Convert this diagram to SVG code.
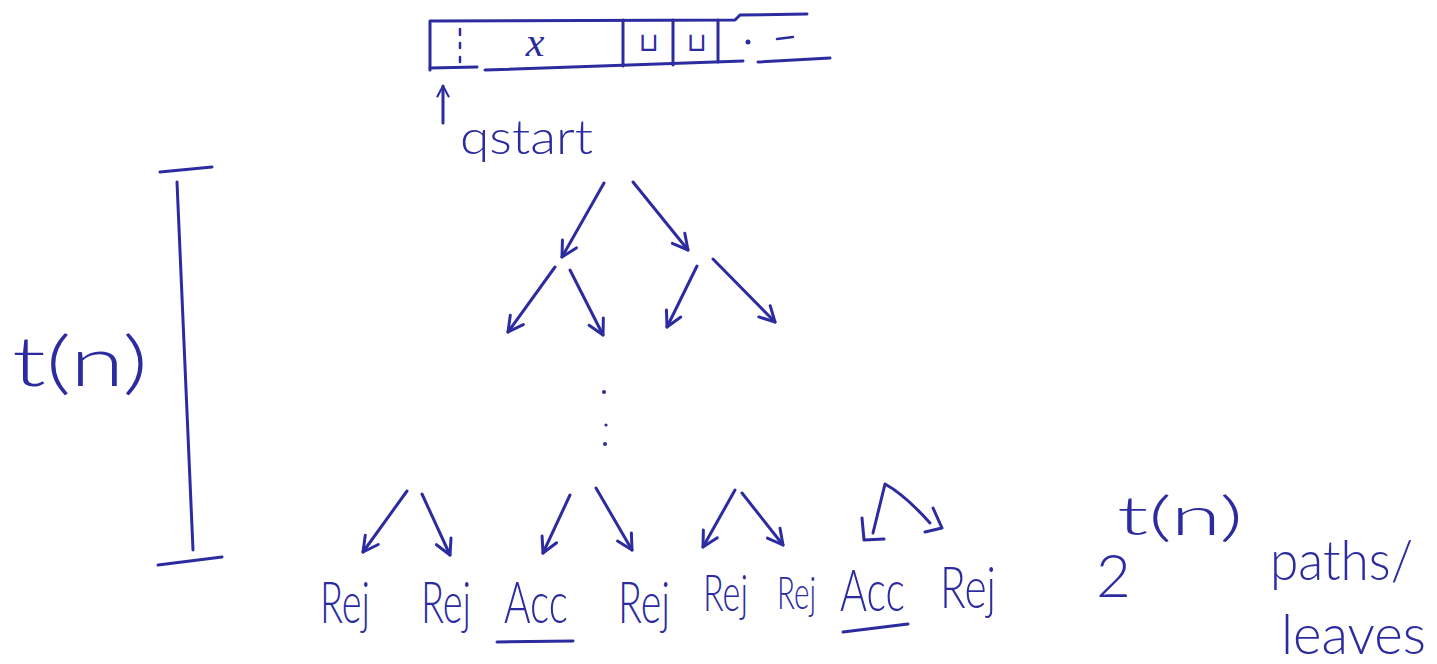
<svg xmlns="http://www.w3.org/2000/svg" width="1437" height="664" viewBox="0 0 1437 664">
<defs>
<style>
.ink{fill:none;stroke:#2c2ca0;stroke-width:3;stroke-linecap:round;stroke-linejoin:round}
.thin{fill:none;stroke:#2c2ca0;stroke-width:2.5;stroke-linecap:round}
.t{fill:#2c2ca0;font-family:Lato,"Liberation Sans",Arial,sans-serif;font-weight:300}
.leaf{font-size:58px}
.arr{fill:none;stroke:#2c2ca0;stroke-width:3;stroke-linecap:round;marker-end:url(#ah)}
</style>
<marker id="ah" viewBox="0 0 20 20" refX="17" refY="10" markerWidth="20" markerHeight="20" markerUnits="userSpaceOnUse" orient="auto">
<path d="M2,2 L17,10 L2,18" fill="none" stroke="#2c2ca0" stroke-width="3" stroke-linecap="round" stroke-linejoin="round"/>
</marker>
<marker id="ahs" viewBox="0 0 20 20" refX="17" refY="10" markerWidth="14" markerHeight="14" markerUnits="userSpaceOnUse" orient="auto">
<path d="M2,2 L17,10 L2,18" fill="none" stroke="#2c2ca0" stroke-width="3" stroke-linecap="round" stroke-linejoin="round"/>
</marker>
</defs>
<rect width="1437" height="664" fill="#ffffff"/>

<g id="tape">
<path class="ink" d="M430,70 L430,21 L735,20 L740,15 L807,14"/>
<path class="ink" d="M430,68 L477,67"/>
<path class="ink" d="M485,70 L743,61"/>
<path class="ink" d="M758,62 L830,58"/>
<path class="ink" d="M623,20 L623,66"/>
<path class="ink" d="M673,20 L673,65"/>
<path class="ink" d="M718,20 L718,62"/>
<path class="thin" d="M460,29 L460,35 M460,43 L460,48 M460,57 L460,62"/>
<text x="535" y="56" font-style="italic" font-size="42" text-anchor="middle" fill="#2c2ca0" style="font-family:'Liberation Serif',serif">x</text>
<text x="649" y="51" font-size="26" text-anchor="middle" fill="#2c2ca0" style="font-family:'DejaVu Sans',sans-serif">⊔</text>
<text x="697" y="51" font-size="26" text-anchor="middle" fill="#2c2ca0" style="font-family:'DejaVu Sans',sans-serif">⊔</text>
<circle cx="748" cy="42" r="2.5" fill="#2c2ca0"/>
<path class="thin" d="M777,39 L793,37"/>
</g>

<g id="qstart">
<path class="ink" d="M443,123 L443,86" marker-end="url(#ahs)"/>
<text class="t" x="460" y="154" font-size="48" textLength="133" lengthAdjust="spacingAndGlyphs">qstart</text>
</g>

<g id="connectors">
<path class="arr" d="M604,183 L562,257"/>
<path class="arr" d="M633,182 L688,250"/>
<path class="arr" d="M555,267 L508,332"/>
<path class="arr" d="M570,270 L603,335"/>
<path class="arr" d="M697,266 L667,327"/>
<path class="arr" d="M713,259 L775,322"/>
<path class="arr" d="M407,491 L363,552"/>
<path class="arr" d="M422,494 L450,555"/>
<path class="arr" d="M570,495 L543,553"/>
<path class="arr" d="M596,488 L632,550"/>
<path class="arr" d="M735,490 L703,547"/>
<path class="arr" d="M742,493 L783,545"/>
<path class="ink" d="M873,533 L885,484 Q905,495 930,523"/>
<path class="ink" d="M862,518 L864,540 L884,539"/>
<path class="ink" d="M933,508 L942,528 L925,532"/>
</g>

<g id="dots">
<circle cx="604" cy="392" r="2" fill="#2c2ca0"/>
<circle cx="606" cy="425" r="1.6" fill="#2c2ca0"/>
<circle cx="605" cy="444" r="2" fill="#2c2ca0"/>
</g>

<g id="leaf1"><text class="t leaf" x="320" y="623" textLength="50" lengthAdjust="spacingAndGlyphs">Rej</text></g>
<g id="leaf2"><text class="t leaf" x="421" y="623" textLength="50" lengthAdjust="spacingAndGlyphs">Rej</text></g>
<g id="leaf3"><text class="t leaf" x="504" y="623" textLength="64" lengthAdjust="spacingAndGlyphs">Acc</text>
<path class="ink" d="M497,642 L573,641"/></g>
<g id="leaf4"><text class="t leaf" x="618" y="623" textLength="52" lengthAdjust="spacingAndGlyphs">Rej</text></g>
<g id="leaf5"><text class="t" font-size="52" x="703" y="611" textLength="45" lengthAdjust="spacingAndGlyphs">Rej</text></g>
<g id="leaf6"><text class="t" font-size="46" x="777" y="609" textLength="39" lengthAdjust="spacingAndGlyphs">Rej</text></g>
<g id="leaf7"><text class="t leaf" x="840" y="611" textLength="65" lengthAdjust="spacingAndGlyphs">Acc</text>
<path class="ink" d="M843,632 L908,624"/></g>
<g id="leaf8"><text class="t leaf" x="940" y="608" textLength="56" lengthAdjust="spacingAndGlyphs">Rej</text></g>

<g id="bracket">
<path class="ink" d="M160,172 L212,167"/>
<path class="ink" d="M177,182 L193,550"/>
<path class="ink" d="M158,565 L222,557"/>
<text class="t" x="12" y="386" font-size="68" textLength="136" lengthAdjust="spacingAndGlyphs">t(n)</text>
</g>

<g id="count">
<text class="t" x="1096" y="597" font-size="60">2</text>
<text class="t" x="1117" y="535" font-size="54" textLength="126" lengthAdjust="spacingAndGlyphs">t(n)</text>
<text class="t" x="1270" y="580" font-size="56" textLength="143" lengthAdjust="spacingAndGlyphs">paths/</text>
<text class="t" x="1281" y="654" font-size="56" textLength="145" lengthAdjust="spacingAndGlyphs">leaves</text>
</g>
</svg>
